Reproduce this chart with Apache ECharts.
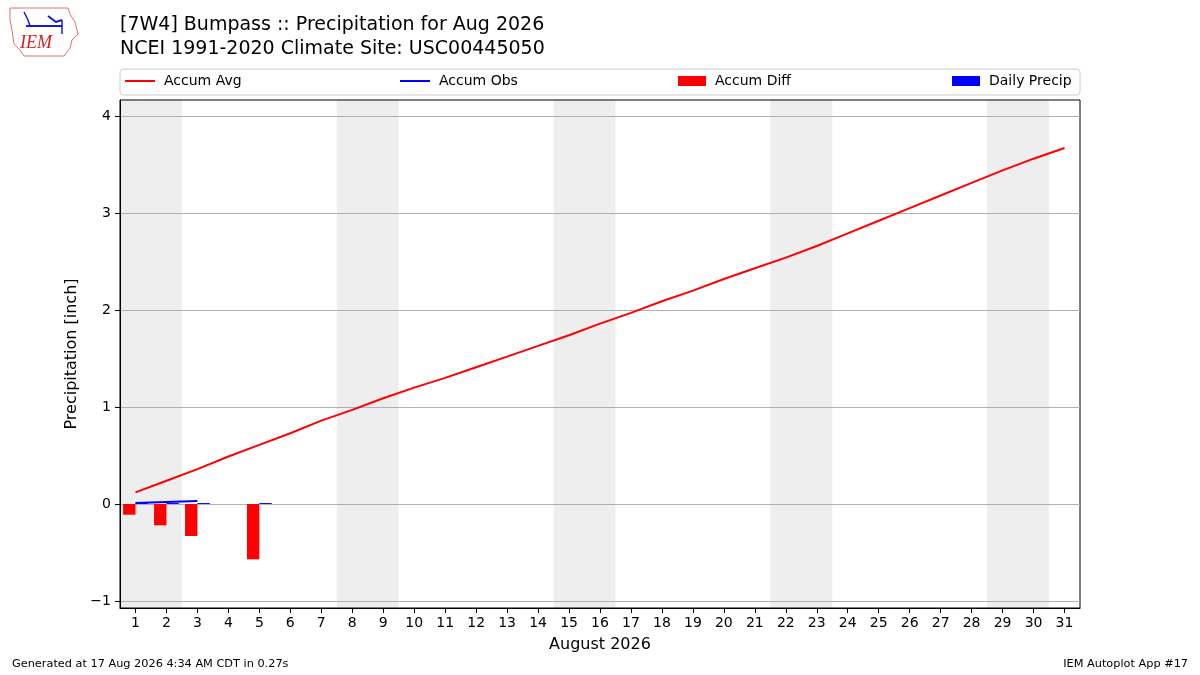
<!DOCTYPE html>
<html>
<head>
<meta charset="utf-8">
<script src="https://cdn.jsdelivr.net/npm/echarts@6/dist/echarts.min.js"></script>
<style>
  html, body { margin: 0; padding: 0; background: #fff; }
  #main { width: 1200px; height: 675px; }
</style>
</head>
<body>
<div id="main"></div>
<script>
// days of August 2026
const days = ['1','2','3','4','5','6','7','8','9','10','11','12','13','14','15','16',
  '17','18','19','20','21','22','23','24','25','26','27','28','29','30','31'];

// climatology accumulated average (inch)
const accumAvg = [0.12, 0.24, 0.36, 0.49, 0.61, 0.73, 0.86, 0.97, 1.09, 1.20,
  1.30, 1.41, 1.52, 1.63, 1.74, 1.86, 1.97, 2.09, 2.20, 2.32,
  2.43, 2.54, 2.66, 2.79, 2.92, 3.05, 3.18, 3.31, 3.44, 3.56, 3.67];

// observed accumulation (only first days reported)
const accumObs = [0.01, 0.02, 0.03];

// observed minus average
const accumDiff = [-0.11, -0.22, -0.33, null, -0.57];

// daily precipitation
const dailyPrecip = [0.01, 0.01, 0.01, null, 0.01];

// weekend starts (Saturdays)
const weekendStarts = ['1', '8', '15', '22', '29'];

const yTicks = [-1, 0, 1, 2, 3, 4];

const FONT = 'DejaVu Sans';

let myChart = echarts.init(document.getElementById('main'));

function legendAt(name, left, icon, w, h) {
  return {
    data: [name],
    left: left,
    top: 74,
    padding: 0,
    icon: icon,
    itemWidth: w,
    itemHeight: h,
    selectedMode: false,
    textStyle: { fontFamily: FONT, fontSize: 14, color: '#000', padding: [0, 0, 0, 4] }
  };
}

let option = {
  animation: false,
  backgroundColor: '#fff',
  title: {
    text: '[7W4] Bumpass :: Precipitation for Aug 2026\nNCEI 1991-2020 Climate Site: USC00445050',
    left: 115, top: 8,
    padding: [5, 5, 5, 5],
    textStyle: { fontFamily: FONT, fontSize: 19, fontWeight: 'normal', color: '#000', lineHeight: 24 }
  },
  legend: [
    legendAt('Accum Avg', 125, 'rect', 30, 2),
    legendAt('Accum Obs', 400, 'rect', 30, 2),
    legendAt('Accum Diff', 678, 'rect', 28, 10),
    legendAt('Daily Precip', 952, 'rect', 28, 10)
  ],
  graphic: [
    { type: 'rect', shape: { x: 120, y: 69, width: 960, height: 26, r: 3 },
      style: { fill: 'none', stroke: '#cccccc', lineWidth: 1 }, z: -1 },
    // IEM logo approximation
    { type: 'polyline', shape: { points: [[10,8],[68,8],[70,14],[75,22],[78,34],[72,40],[70,48],[64,56],[24,56],[20,50],[14,44],[12,30],[10,20],[10,8]] },
      style: { stroke: '#e07070', fill: 'none', lineWidth: 1 } },
    { type: 'polyline', shape: { points: [[26,26],[62,26]] }, style: { stroke: '#1a1acc', lineWidth: 2 } },
    { type: 'polyline', shape: { points: [[24,12],[28,20],[30,26]] }, style: { stroke: '#1a1acc', lineWidth: 1.5, fill: 'none' } },
    { type: 'polyline', shape: { points: [[48,16],[56,22],[62,20]] }, style: { stroke: '#1a1acc', lineWidth: 2, fill: 'none' } },
    { type: 'polyline', shape: { points: [[62,20],[62,34]] }, style: { stroke: '#1a1acc', lineWidth: 1.5 } },
    { type: 'text', left: 20, top: 34,
      style: { text: 'IEM', font: 'italic 18px "Liberation Serif"', fill: '#d42020' } },
    // footer
    { type: 'text', left: 12, top: 659,
      style: { text: 'Generated at 17 Aug 2026 4:34 AM CDT in 0.27s', font: '11.3px "DejaVu Sans"', fill: '#000' } },
    { type: 'text', right: 12, top: 659,
      style: { text: 'IEM Autoplot App #17', font: '11.3px "DejaVu Sans"', fill: '#000' } }
  ],
  grid: {
    left: 120, right: 120, top: 100, bottom: 67,
    show: true, borderColor: '#000', borderWidth: 1, backgroundColor: 'transparent'
  },
  xAxis: {
    type: 'category',
    data: days,
    boundaryGap: true,
    name: 'August 2026',
    nameLocation: 'middle',
    nameGap: 29,
    nameTextStyle: { fontFamily: FONT, fontSize: 16, color: '#000' },
    axisLine: { show: true, onZero: false, lineStyle: { color: '#000' } },
    axisTick: { show: true, alignWithLabel: true, length: 5, lineStyle: { color: '#000' } },
    axisLabel: { fontFamily: FONT, fontSize: 14, color: '#000', margin: 8, interval: 0 },
    splitLine: { show: false }
  },
  yAxis: {
    type: 'value',
    min: -1.072, max: 4.165,
    name: 'Precipitation [inch]',
    nameLocation: 'middle',
    nameGap: 34,
    nameTextStyle: { fontFamily: FONT, fontSize: 16, color: '#000' },
    axisLine: { show: true, lineStyle: { color: '#000' } },
    axisTick: { show: true, length: 5, lineStyle: { color: '#000' }, customValues: yTicks },
    axisLabel: { fontFamily: FONT, fontSize: 14, color: '#000', margin: 9, customValues: yTicks,
      formatter: v => (v < 0 ? '\u2212' + Math.abs(v) : String(v)) },
    splitLine: { show: true, lineStyle: { color: '#b0b0b0', width: 1 } }
  },
  series: [
    {
      name: 'weekend',
      type: 'custom',
      z: -1,
      silent: true,
      data: weekendStarts.map(d => [d, 0]),
      encode: { x: 0, y: 1 },
      renderItem: function (params, api) {
        const c = api.coord([api.value(0), 0]);
        const bw = api.size([1, 0])[0];
        const cs = params.coordSys;
        return {
          type: 'rect',
          shape: { x: c[0] - bw / 2, y: cs.y, width: bw * 2, height: cs.height },
          style: { fill: '#eeeeee' }
        };
      }
    },
    {
      name: 'Accum Diff',
      type: 'bar',
      color: '#ff0000',
      barWidth: '40%',
      barGap: '0%',
      data: accumDiff
    },
    {
      name: 'Daily Precip',
      type: 'bar',
      color: '#0000ff',
      barWidth: '40%',
      barGap: '0%',
      data: dailyPrecip
    },
    {
      name: 'Accum Avg',
      type: 'line',
      color: '#ff0000',
      showSymbol: false,
      lineStyle: { width: 2, color: '#ff0000' },
      data: accumAvg,
      z: 4
    },
    {
      name: 'Accum Obs',
      type: 'line',
      color: '#0000ff',
      showSymbol: false,
      lineStyle: { width: 2, color: '#0000ff' },
      data: accumObs,
      z: 4
    }
  ]
};
myChart.setOption(option);
</script>
</body>
</html>
